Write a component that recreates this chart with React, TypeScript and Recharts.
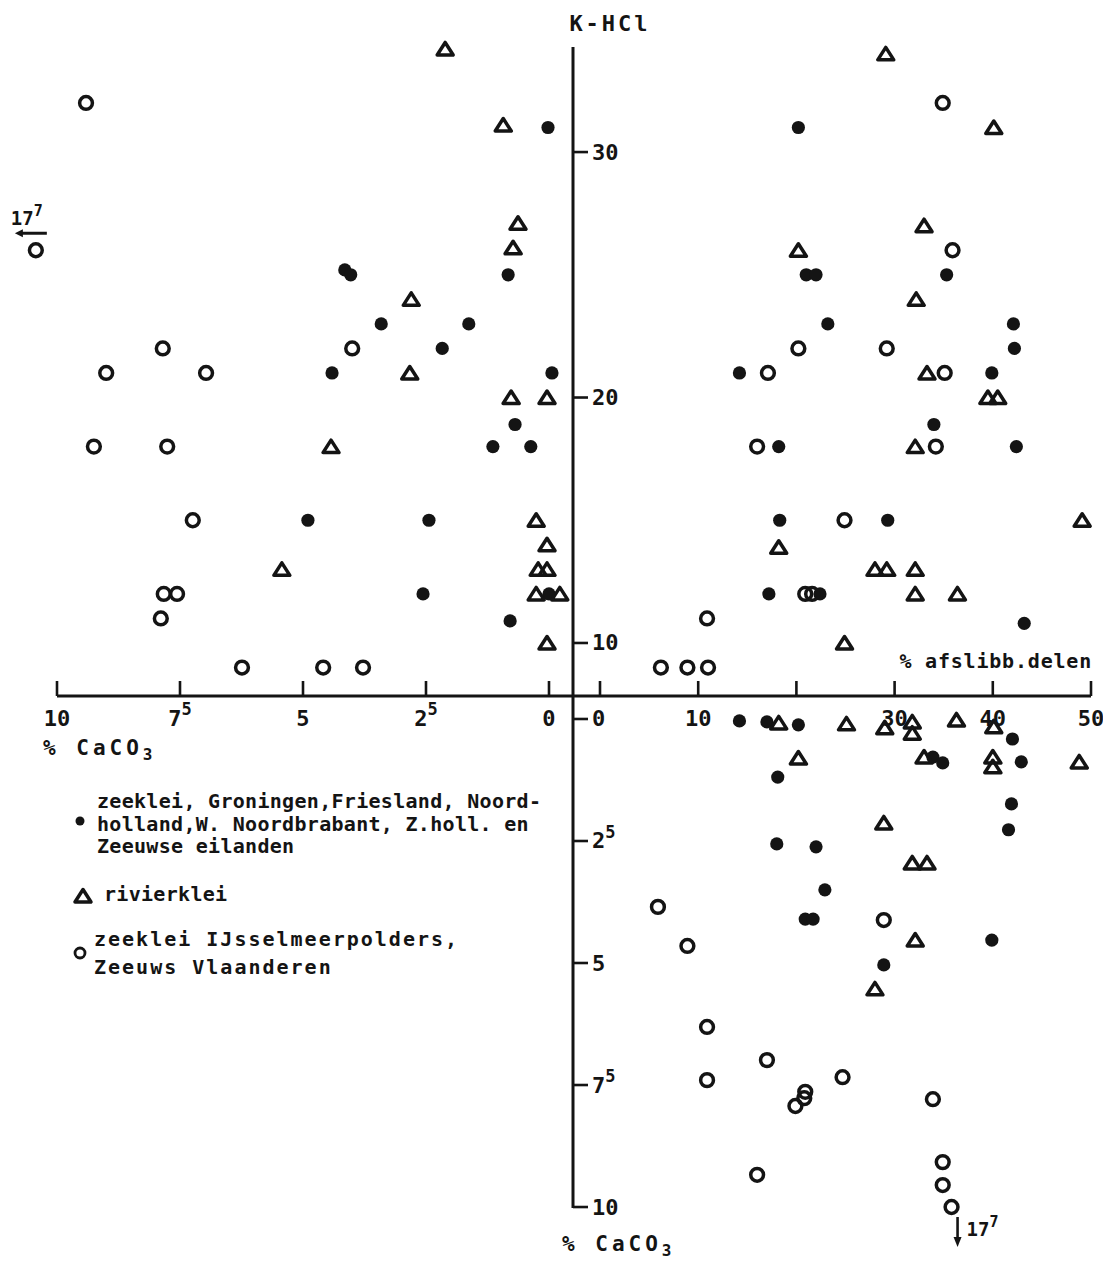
import { ReferenceDot, Scatter, ScatterChart, XAxis, YAxis } from "recharts";

type Pair = [number, number];

// upper left: % CaCO3 (x, leftwards) against K-HCl (y)
const ulZeeklei: Pair[] = [
  [0.02, 31], [4.15, 25.2], [4.03, 25.0], [0.83, 25], [3.41, 23], [1.63, 23],
  [2.17, 22], [4.41, 21], [-0.06, 21], [0.69, 18.9], [1.14, 18], [0.37, 18],
  [4.9, 15], [2.44, 15], [2.56, 12], [0.0, 12], [0.79, 10.9],
];
const ulRivierklei: Pair[] = [
  [2.11, 34.2], [0.93, 31.1], [0.63, 27.1], [0.73, 26.1], [2.8, 24], [2.83, 21],
  [0.77, 20], [0.04, 20], [4.43, 18], [0.26, 15], [0.04, 14], [0.22, 13],
  [0.04, 13], [5.43, 13], [0.26, 12], [-0.22, 12], [0.04, 10],
];
const ulIJsselmeer: Pair[] = [
  [9.41, 32], [7.85, 22], [4.0, 22], [9.0, 21], [6.97, 21], [9.25, 18], [7.76, 18],
  [7.24, 15], [7.83, 12], [7.56, 12], [7.89, 11], [6.24, 9], [4.59, 9], [3.78, 9],
];
// one sample at 17,7 % CaCO3 sits off the scale, at its edge
const ulOffscale: Pair = [10.43, 26];

// upper right: % afslibbare delen (x) against K-HCl (y)
const urZeeklei: Pair[] = [
  [20.2, 31], [21.0, 25], [22.0, 25], [35.3, 25], [23.2, 23], [42.1, 23], [42.2, 22],
  [14.2, 21], [39.9, 21], [34.0, 18.9], [18.2, 18], [42.4, 18], [18.3, 15],
  [29.3, 15], [17.2, 12], [22.4, 12], [43.2, 10.8],
];
const urRivierklei: Pair[] = [
  [29.1, 34], [40.1, 31], [33.0, 27], [20.2, 26], [32.2, 24], [33.3, 21], [39.5, 20],
  [40.5, 20], [32.1, 18], [49.1, 15], [18.2, 13.9], [28.0, 13], [29.2, 13],
  [32.1, 13], [32.1, 12], [36.4, 12], [24.9, 10],
];
const urIJsselmeer: Pair[] = [
  [34.9, 32], [35.9, 26], [20.2, 22], [29.2, 22], [17.1, 21], [35.1, 21], [16.0, 18],
  [34.2, 18], [24.9, 15], [20.9, 12], [21.6, 12], [10.9, 11], [6.2, 9], [8.9, 9], [11.0, 9],
];

// lower right: % afslibbare delen (x) against % CaCO3 (y, downwards)
const lrZeeklei: Pair[] = [
  [14.2, 0.04], [17.0, 0.06], [20.2, 0.12], [18.1, 1.19], [18.0, 2.56], [22.0, 2.62],
  [22.9, 3.5], [20.9, 4.1], [21.7, 4.1], [42.0, 0.41], [33.9, 0.78], [34.9, 0.9],
  [42.9, 0.88], [41.9, 1.74], [41.6, 2.27], [39.9, 4.53], [28.9, 5.04],
];
const lrRivierklei: Pair[] = [
  [18.2, 0.08], [20.2, 0.8], [25.1, 0.1], [29.0, 0.18], [31.8, 0.06], [31.8, 0.29],
  [36.3, 0.02], [40.1, 0.16], [33.0, 0.78], [40.0, 0.78], [40.0, 0.98], [48.8, 0.88],
  [28.9, 2.13], [31.8, 2.95], [33.3, 2.95], [32.1, 4.53], [28.0, 5.53],
];
const lrIJsselmeer: Pair[] = [
  [5.9, 3.85], [8.9, 4.65], [28.9, 4.12], [10.9, 6.31], [17.0, 6.99], [10.9, 7.4],
  [24.7, 7.34], [20.9, 7.64], [20.8, 7.77], [19.9, 7.93], [33.9, 7.79], [16.0, 9.34],
  [34.9, 9.08], [34.9, 9.55], [35.8, 10.0],
];
const lrOffscale: Pair = [35.8, 10.0];

const caco3Ticks = [10, 7.5, 5, 2.5, 0];
const afslibTicks = [0, 10, 20, 30, 40, 50];
const afslibUnlabeled = [0, 20];
const khclTicks = [10, 20, 30];
const caco3DownTicks = [0, 2.5, 5, 7.5, 10];
const offscaleLabel = ["17", "7"];

const legendZeeklei = [
  "zeeklei, Groningen,Friesland, Noord-",
  "holland,W. Noordbrabant, Z.holl. en",
  "Zeeuwse eilanden",
];
const legendRivier = ["rivierklei"];
const legendIJssel = ["zeeklei IJsselmeerpolders,", "Zeeuws Vlaanderen"];

// axis ranges, so that the four quadrants meet on the cross
const KHCL_DOMAIN: [number, number] = [7.84, 34.28];
const CACO3_LEFT_DOMAIN: [number, number] = [-0.488, 10];
const AFSLIB_DOMAIN: [number, number] = [-2.75, 50];
const CACO3_DOWN_DOMAIN: [number, number] = [-0.471, 10.02];

const INK = "#141414";
const FONT = "'DejaVu Sans Mono', monospace";

const toPoints = (rows: Pair[]) => rows.map(([x, y]) => ({ x, y }));

function Dot(p: any) {
  return <circle cx={p.cx} cy={p.cy} r={6.6} fill={INK} />;
}

function Ring(p: any) {
  return <circle cx={p.cx} cy={p.cy} r={6.4} fill="none" stroke={INK} strokeWidth={3.5} />;
}

function Tri(p: any) {
  const { cx, cy } = p;
  return (
    <polygon
      points={`${cx},${cy - 6.5} ${cx + 8},${cy + 6} ${cx - 8},${cy + 6}`}
      fill="none"
      stroke={INK}
      strokeWidth={3.5}
      strokeLinejoin="round"
    />
  );
}

function Num({ x, y, v, anchor }: { x: number; y: number; v: number; anchor: "start" | "middle" }) {
  const whole = Math.trunc(v);
  const half = v !== whole;
  return (
    <text
      x={x}
      y={y}
      textAnchor={anchor}
      dominantBaseline="central"
      fontSize={22}
      fontWeight={700}
      fontFamily={FONT}
      fill={INK}
    >
      {whole}
      {half && (
        <tspan dy={-9} fontSize={17}>
          5
        </tspan>
      )}
    </text>
  );
}

// tick mark pointing up into the plot, label under the line
function BottomTick(props: any) {
  const { x, y, payload, unlabeled = [] } = props;
  const v = payload.value;
  return (
    <g>
      <line x1={x} y1={y} x2={x} y2={y - 15} stroke={INK} strokeWidth={2.6} />
      {!unlabeled.includes(v) && <Num x={x} y={y + 22} v={v} anchor="middle" />}
    </g>
  );
}

function SideTick(props: any) {
  return <Num x={props.x} y={props.y} v={props.payload.value} anchor="start" />;
}

function OffscaleLeft(p: any) {
  const { cx, cy } = p;
  return (
    <g>
      <Ring cx={cx} cy={cy} />
      <line x1={cx + 11} y1={cy - 17} x2={cx - 16} y2={cy - 17} stroke={INK} strokeWidth={3} />
      <polygon points={`${cx - 21},${cy - 17} ${cx - 13},${cy - 21} ${cx - 13},${cy - 13}`} fill={INK} />
      <text x={cx - 25} y={cy - 32} fontSize={19} fontWeight={700} fontFamily={FONT} fill={INK} dominantBaseline="central">
        {offscaleLabel[0]}
        <tspan dy={-7} fontSize={15}>{offscaleLabel[1]}</tspan>
      </text>
    </g>
  );
}

function OffscaleDown(p: any) {
  const { cx, cy } = p;
  return (
    <g>
      <line x1={cx + 6} y1={cy + 10} x2={cx + 6} y2={cy + 33} stroke={INK} strokeWidth={2.6} />
      <polygon points={`${cx + 6},${cy + 40} ${cx + 2},${cy + 30} ${cx + 10},${cy + 30}`} fill={INK} />
      <text x={cx + 15} y={cy + 22} fontSize={19} fontWeight={700} fontFamily={FONT} fill={INK} dominantBaseline="central">
        {offscaleLabel[0]}
        <tspan dy={-7} fontSize={15}>{offscaleLabel[1]}</tspan>
      </text>
    </g>
  );
}

const axisLine = { stroke: INK, strokeWidth: 3 };
const tickLine = { stroke: INK, strokeWidth: 2.6 };

export default function App() {
  const textStyle = { fontFamily: FONT, fontWeight: 700, fill: INK } as const;
  return (
    <div style={{ position: "absolute", left: 0, top: 0, width: 1107, height: 1262, background: "#fff" }}>
      {/* upper left */}
      <div style={{ position: "absolute", left: 7, top: 22 }}>
        <ScatterChart width={586} height={744} margin={{ top: 25, right: 20, bottom: 0, left: 50 }}>
          <XAxis
            type="number"
            dataKey="x"
            domain={CACO3_LEFT_DOMAIN}
            reversed
            ticks={caco3Ticks}
            interval={0}
            height={70}
            tickSize={0}
            tickMargin={0}
            axisLine={axisLine}
            tickLine={false}
            tick={(p: any) => <BottomTick {...p} />}
          />
          <YAxis type="number" dataKey="y" domain={KHCL_DOMAIN} hide />
          <Scatter data={toPoints(ulZeeklei)} shape={Dot} isAnimationActive={false} />
          <Scatter data={toPoints(ulRivierklei)} shape={Tri} isAnimationActive={false} />
          <Scatter data={toPoints(ulIJsselmeer)} shape={Ring} isAnimationActive={false} />
          <ReferenceDot x={ulOffscale[0]} y={ulOffscale[1]} ifOverflow="visible" shape={OffscaleLeft} />
        </ScatterChart>
      </div>

      {/* upper right */}
      <div style={{ position: "absolute", left: 553, top: 22 }}>
        <ScatterChart width={550} height={744} margin={{ top: 25, right: 12, bottom: 0, left: 20 }}>
          <XAxis
            type="number"
            dataKey="x"
            domain={AFSLIB_DOMAIN}
            ticks={afslibTicks}
            interval={0}
            height={70}
            tickSize={0}
            tickMargin={0}
            axisLine={axisLine}
            tickLine={false}
            tick={(p: any) => <BottomTick {...p} unlabeled={afslibUnlabeled} />}
          />
          <YAxis
            type="number"
            dataKey="y"
            domain={KHCL_DOMAIN}
            ticks={khclTicks}
            interval={0}
            mirror
            tickSize={15}
            tickMargin={4}
            axisLine={axisLine}
            tickLine={tickLine}
            tick={SideTick}
          />
          <Scatter data={toPoints(urZeeklei)} shape={Dot} isAnimationActive={false} />
          <Scatter data={toPoints(urRivierklei)} shape={Tri} isAnimationActive={false} />
          <Scatter data={toPoints(urIJsselmeer)} shape={Ring} isAnimationActive={false} />
        </ScatterChart>
      </div>

      {/* lower right */}
      <div style={{ position: "absolute", left: 553, top: 686 }}>
        <ScatterChart width={550} height={572} margin={{ top: 10, right: 12, bottom: 50, left: 20 }}>
          <XAxis type="number" dataKey="x" domain={AFSLIB_DOMAIN} hide />
          <YAxis
            type="number"
            dataKey="y"
            domain={CACO3_DOWN_DOMAIN}
            reversed
            ticks={caco3DownTicks}
            interval={0}
            mirror
            tickSize={15}
            tickMargin={4}
            axisLine={axisLine}
            tickLine={tickLine}
            tick={SideTick}
          />
          <Scatter data={toPoints(lrZeeklei)} shape={Dot} isAnimationActive={false} />
          <Scatter data={toPoints(lrRivierklei)} shape={Tri} isAnimationActive={false} />
          <Scatter data={toPoints(lrIJsselmeer)} shape={Ring} isAnimationActive={false} />
          <ReferenceDot x={lrOffscale[0]} y={lrOffscale[1]} ifOverflow="visible" shape={OffscaleDown} />
        </ScatterChart>
      </div>

      {/* titles and legend */}
      <svg width={1107} height={1262} style={{ position: "absolute", left: 0, top: 0, pointerEvents: "none" }}>
        <text x={610} y={23} textAnchor="middle" dominantBaseline="central" fontSize={22} letterSpacing={3} {...textStyle}>
          K-HCl
        </text>
        <text x={1092} y={661} textAnchor="end" dominantBaseline="central" fontSize={20} letterSpacing={0.8} {...textStyle}>
          % afslibb.delen
        </text>
        <text x={43} y={748} dominantBaseline="central" fontSize={21} letterSpacing={4} {...textStyle}>
          % CaCO
          <tspan dy={6} fontSize={16}>3</tspan>
        </text>
        <text x={562} y={1244} dominantBaseline="central" fontSize={21} letterSpacing={4} {...textStyle}>
          % CaCO
          <tspan dy={6} fontSize={16}>3</tspan>
        </text>

        <circle cx={80} cy={821} r={4.5} fill={INK} />
        {legendZeeklei.map((line, i) => (
          <text key={line} x={97} y={801 + i * 22.5} dominantBaseline="central" fontSize={20} letterSpacing={0.3} {...textStyle}>
            {line}
          </text>
        ))}
        <Tri cx={83} cy={896} />
        {legendRivier.map((line) => (
          <text key={line} x={104} y={894} dominantBaseline="central" fontSize={20} letterSpacing={0.3} {...textStyle}>
            {line}
          </text>
        ))}
        <circle cx={80} cy={953} r={5} fill="none" stroke={INK} strokeWidth={2.8} />
        {legendIJssel.map((line, i) => (
          <text key={line} x={94} y={939 + i * 28} dominantBaseline="central" fontSize={20} letterSpacing={2} {...textStyle}>
            {line}
          </text>
        ))}
      </svg>
    </div>
  );
}
